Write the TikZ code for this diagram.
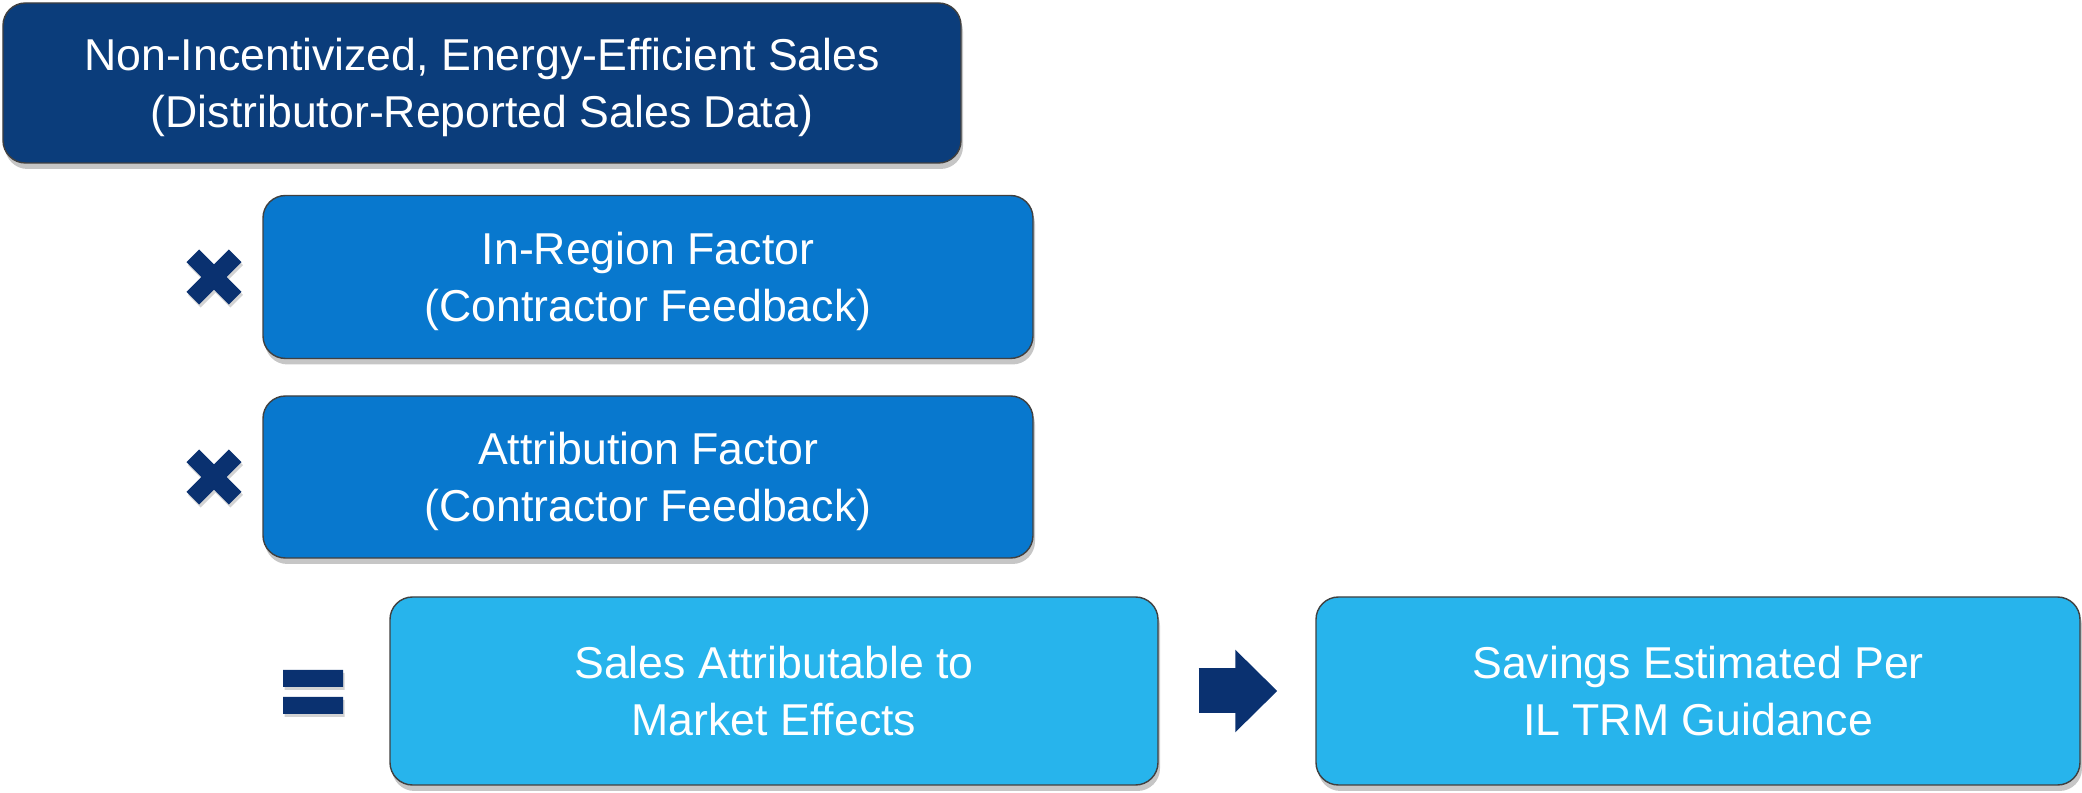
\documentclass[tikz,border=0pt]{standalone}
\usepackage{fontspec}
\setmainfont{Liberation Sans}
\usetikzlibrary{positioning,shadows,arrows.meta}

\definecolor{navybox}{HTML}{0B3D7B}
\definecolor{midbox}{HTML}{0878CE}
\definecolor{skybox}{HTML}{27B4EC}
\definecolor{opblue}{HTML}{0A3170}

\begin{document}
\begin{tikzpicture}[
    box/.style={rounded corners=0.45cm, draw=black!75, line width=0.8pt,
        text=white, align=center, inner sep=0pt, text depth=0pt,
        font=\fontsize{25.4}{32.4}\selectfont,
        drop shadow={shadow xshift=0.04cm, shadow yshift=-0.12cm, opacity=0.45}},
    opsign/.style={fill=opblue,
        drop shadow={shadow xshift=0.03cm, shadow yshift=-0.06cm, opacity=0.35}}
]
    \useasboundingbox (0,0) rectangle (41.64,-15.86);

    \node[box, fill=navybox, minimum width=19.16cm, minimum height=3.2cm] (sales) at (9.64,-1.66)
        {Non-Incentivized, Energy-Efficient Sales\\(Distributor-Reported Sales Data)};
    \node[box, fill=midbox, minimum width=15.4cm, minimum height=3.26cm] (region) at (12.96,-5.54)
        {In-Region Factor\\(Contractor Feedback)};
    \node[box, fill=midbox, minimum width=15.4cm, minimum height=3.24cm] (attrib) at (12.96,-9.54)
        {Attribution Factor\\(Contractor Feedback)};
    \node[box, fill=skybox, minimum width=15.36cm, minimum height=3.76cm] (market) at (15.48,-13.82)
        {Sales Attributable to\\Market Effects};
    \node[box, fill=skybox, minimum width=15.28cm, minimum height=3.76cm] (savings) at (33.96,-13.82)
        {Savings Estimated Per\\IL TRM Guidance};

    % times signs
    \coordinate (times1) at (4.28,-5.54);
    \coordinate (times2) at (4.28,-9.54);
    \foreach \c in {times1,times2}
        \path[opsign, shift={(\c)}, rotate=45]
            (-0.6,-0.18) rectangle (0.6,0.18) (-0.18,-0.6) rectangle (0.18,0.6);

    % equals sign
    \coordinate (equals) at (6.26,-13.84);
    \path[opsign, shift={(equals)}]
        (-0.6,0.1) rectangle (0.6,0.44) (-0.6,-0.1) rectangle (0.6,-0.44);

    \draw[opblue, line width=0.9cm, shorten <=0.8cm, shorten >=0.76cm,
        -{Triangle[length=0.84cm, width=1.6cm]}] (market.east) -- (savings.west);
\end{tikzpicture}
\end{document}
